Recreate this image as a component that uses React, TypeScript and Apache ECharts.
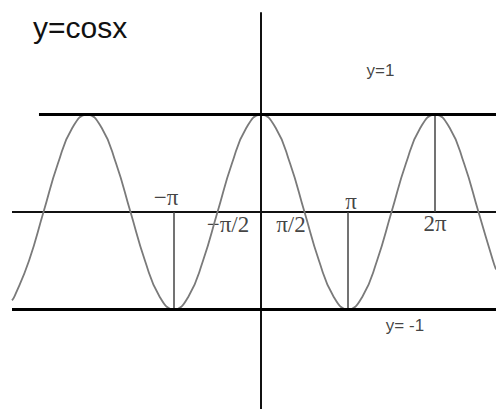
import React, { useEffect, useRef } from "react";
import * as echarts from "echarts";

// x values are in units of π
const curveX = [
  -2.862, -17 / 6, -16 / 6, -15 / 6, -14 / 6, -13 / 6, -12 / 6, -11 / 6, -10 / 6, -9 / 6, -8 / 6, -7 / 6,
  -6 / 6, -5 / 6, -4 / 6, -3 / 6, -2 / 6, -1 / 6, 0, 1 / 6, 2 / 6, 3 / 6, 4 / 6, 5 / 6, 6 / 6, 7 / 6,
  8 / 6, 9 / 6, 10 / 6, 11 / 6, 12 / 6, 13 / 6, 14 / 6, 15 / 6, 16 / 6, 2.701,
];
const curveY = [
  -0.906, -0.866, -0.5, 0, 0.5, 0.866, 1, 0.866, 0.5, 0, -0.5, -0.866,
  -1, -0.866, -0.5, 0, 0.5, 0.866, 1, 0.866, 0.5, 0, -0.5, -0.866, -1, -0.866,
  -0.5, 0, 0.5, 0.866, 1, 0.866, 0.5, 0, -0.5, -0.59,
];

const xMin = -3;
const xMax = 2.7011;
const yMin = -2.0205;
const yMax = 2.1744;

const xAxisLine = [[-2.862, 0], [2.701, 0]];
const yAxisLine = [[0, 2.05], [0, yMin]];
const upperLine = [[-2.552, 1], [2.701, 1]];
const lowerLine = [[-2.862, -1], [2.701, -1]];
const dropLines = [
  [[-1, 0], [-1, -1]],
  [[1, 0], [1, -1]],
  [[2, 1], [2, 0]],
];

const tickLabels = ["−π", "−π/2", "π/2", "π", "2π"];
const tickValues = [-1, -0.5, 0.5, 1, 2];
const tickOffsets = [[-8, -15], [10.5, 12], [-13.5, 12], [3, -11], [0, 11]];

const lineLabels = ["y=1", "y= -1"];
const lineLabelAnchors = [[1.5, 1], [1.5, -1]];
const lineLabelOffsets = [[-11, -44], [13.5, 16]];

const title = "y=cosx";

export default function App() {
  const ref = useRef<HTMLDivElement>(null);
  useEffect(() => {
    document.body.style.margin = "0";
    const chart = echarts.init(ref.current!, null, { renderer: "svg" });
    const lineSeries = (data: number[][], color: string, width: number) => ({
      type: "line",
      data,
      symbol: "none",
      silent: true,
      lineStyle: { color, width },
    });
    chart.setOption({
      animation: false,
      backgroundColor: "#ffffff",
      grid: { left: 0, right: 0, top: 0, bottom: 0 },
      xAxis: { type: "value", min: xMin, max: xMax, show: false },
      yAxis: { type: "value", min: yMin, max: yMax, show: false },
      graphic: [
        {
          type: "text",
          x: 33,
          y: 27,
          style: {
            text: title,
            fontFamily: "Liberation Sans",
            fontSize: 30,
            fill: "#111",
            textVerticalAlign: "middle",
          },
        },
      ],
      series: [
        lineSeries(xAxisLine, "#111", 2),
        lineSeries(yAxisLine, "#111", 2),
        ...dropLines.map((d) => lineSeries(d, "#444", 1.5)),
        {
          type: "line",
          data: curveX.map((x, i) => [x, curveY[i]]),
          symbol: "none",
          smooth: 0.5,
          silent: true,
          lineStyle: { color: "#7a7a7a", width: 1.8 },
        },
        lineSeries(upperLine, "#000", 3),
        lineSeries(lowerLine, "#000", 3),
        {
          type: "scatter",
          symbolSize: 0,
          silent: true,
          data: tickValues.map((v, i) => ({
            value: [v, 0],
            label: {
              show: true,
              position: "inside",
              offset: tickOffsets[i],
              formatter: tickLabels[i],
              fontFamily: "Liberation Serif",
              fontSize: 23,
              color: "#111",
            },
          })),
        },
        {
          type: "scatter",
          symbolSize: 0,
          silent: true,
          data: lineLabelAnchors.map((a, i) => ({
            value: a,
            label: {
              show: true,
              position: "inside",
              offset: lineLabelOffsets[i],
              formatter: lineLabels[i],
              fontFamily: "Liberation Sans",
              fontSize: 17,
              color: "#111",
            },
          })),
        },
      ],
    });
    return () => chart.dispose();
  }, []);
  return <div ref={ref} style={{ width: 496, height: 409 }} />;
}
